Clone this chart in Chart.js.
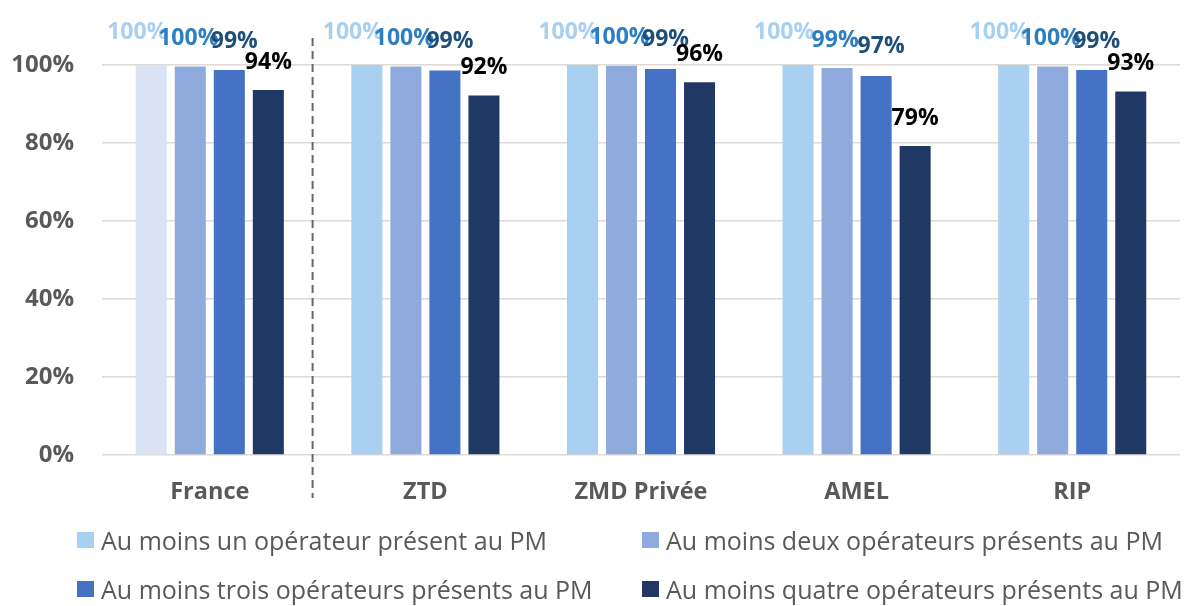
<!DOCTYPE html>
<html lang="fr">
<head>
<meta charset="utf-8">
<title>Présence des opérateurs au PM</title>
<script src="https://cdn.jsdelivr.net/npm/chart.js@4.4.1/dist/chart.umd.min.js"></script>
<style>
  html, body { margin: 0; padding: 0; background: #ffffff; }
  #wrap { position: relative; width: 1189px; height: 606px; overflow: hidden; }
  #legend {
    position: absolute; left: 77px; top: 515px;
    display: grid; grid-template-columns: 565px auto; grid-auto-rows: 49px;
    font-family: 'Open Sans', sans-serif; font-size: 25px; line-height: 30px; color: #595959;
  }
  #legend .item { display: flex; align-items: center; white-space: nowrap; }
  #legend .box { width: 17px; height: 16px; margin-right: 7px; flex: none; }
</style>
</head>
<body>
<div id="wrap">
  <canvas id="chart" width="1189" height="606"></canvas>
  <div id="legend"></div>
</div>
<script>
// Zones and values (share of lines, %)
const zones = ['France', 'ZTD', 'ZMD Privée', 'AMEL', 'RIP'];

const seriesNames = [
  'Au moins un opérateur présent au PM',
  'Au moins deux opérateurs présents au PM',
  'Au moins trois opérateurs présents au PM',
  'Au moins quatre opérateurs présents au PM'
];

const atLeastOne   = [100, 100, 100, 100, 100];
const atLeastTwo   = [99.6, 99.6, 99.8, 99.2, 99.6];
const atLeastThree = [98.7, 98.6, 99.0, 97.2, 98.7];
const atLeastFour  = [93.6, 92.2, 95.6, 79.2, 93.2];

const yTicks = [0, 20, 40, 60, 80, 100];

// Colours
const barColours = ['#A9D0F0', '#8FAADC', '#4472C4', '#203864'];
const franceFirstColour = '#DAE3F3';
const labelColours = ['#A9D0F0', '#2E7EC2', '#1F4E79', '#000000'];
const gridColour = '#DEDAD6';
const textGrey = '#595959';

Chart.defaults.font.family = "'Open Sans', sans-serif";

// label offsets per series, relative to the top of the bar
const labelOffsets = [
  { dx: -14, dy: -33 },
  { dx: -2, dy: -28 },
  { dx: 5, dy: -29 },
  { dx: 0, dy: -28 }
];

const barLabels = {
  id: 'barLabels',
  afterDatasetsDraw(chart) {
    const ctx = chart.ctx;
    ctx.save();
    ctx.textAlign = 'center';
    ctx.textBaseline = 'middle';
    ctx.font = "bold 23px 'Open Sans', sans-serif";
    chart.data.datasets.forEach((ds, i) => {
      const meta = chart.getDatasetMeta(i);
      ctx.fillStyle = labelColours[i];
      meta.data.forEach((bar, j) => {
        const txt = Math.round(ds.data[j]) + '%';
        ctx.fillText(txt, bar.x + labelOffsets[i].dx, bar.y + labelOffsets[i].dy);
      });
    });
    ctx.restore();
  }
};

// dashed separator between France and the zones
const divider = {
  id: 'divider',
  afterDatasetsDraw(chart) {
    const x = chart.scales.x;
    const ctx = chart.ctx;
    const px = (x.getPixelForValue(0) + x.getPixelForValue(1)) / 2 - 5;
    ctx.save();
    ctx.strokeStyle = '#666666';
    ctx.lineWidth = 2;
    ctx.setLineDash([8, 5]);
    ctx.beginPath();
    ctx.moveTo(px, chart.chartArea.top - 27);
    ctx.lineTo(px, chart.chartArea.bottom + 43);
    ctx.stroke();
    ctx.restore();
  }
};

const allSeries = [atLeastOne, atLeastTwo, atLeastThree, atLeastFour];

const datasets = allSeries.map((values, i) => ({
  label: seriesNames[i],
  data: values,
  backgroundColor: i === 0
    ? zones.map((z, j) => j === 0 ? franceFirstColour : barColours[0])
    : barColours[i],
  categoryPercentage: 0.724,
  barPercentage: 0.795
}));

new Chart(document.getElementById('chart'), {
  type: 'bar',
  data: { labels: zones, datasets: datasets },
  options: {
    responsive: false,
    animation: false,
    layout: { padding: { top: 65, right: 9, bottom: 0, left: 0 } },
    plugins: {
      legend: { display: false },
      tooltip: { enabled: false }
    },
    scales: {
      x: {
        afterFit(scale) { scale.height = 151; },
        grid: { display: false },
        border: { display: false },
        ticks: {
          color: textGrey,
          padding: 15,
          font: { size: 23.5, weight: 'bold' }
        }
      },
      y: {
        min: 0,
        max: 100,
        afterBuildTicks(scale) {
          scale.ticks = yTicks.map(v => ({ value: v }));
        },
        afterFit(scale) { scale.width = 102; },
        grid: { color: gridColour, lineWidth: 1.5, drawTicks: false },
        border: { display: false },
        ticks: {
          color: textGrey,
          padding: 28,
          font: { size: 24, weight: 'bold' },
          callback: v => v + '%'
        }
      }
    }
  },
  plugins: [divider, barLabels]
});

// legend in two columns
const legend = document.getElementById('legend');
seriesNames.forEach((name, i) => {
  const item = document.createElement('div');
  item.className = 'item';
  const box = document.createElement('span');
  box.className = 'box';
  box.style.background = barColours[i];
  const txt = document.createElement('span');
  txt.textContent = name;
  item.appendChild(box);
  item.appendChild(txt);
  legend.appendChild(item);
});
</script>
</body>
</html>
